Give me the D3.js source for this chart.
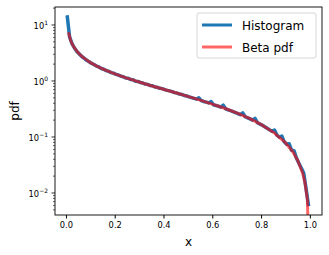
<!DOCTYPE html>
<html>
<head>
<meta charset="utf-8">
<script src="https://d3js.org/d3.v7.min.js"></script>
<style>
  body { margin: 0; background: #fff; }
  text { font-family: "DejaVu Sans", sans-serif; fill: #000; }
</style>
</head>
<body>
<div id="chart"></div>
<script>
// histogram: 100 bins on [0,1], density values
var histBins = d3.range(100).map(function(i) { return (i + 0.5) / 100; });
var histValues = [
  14.95, 6.12, 4.65, 3.88, 3.36, 3.04, 2.73, 2.55, 2.34, 2.21,
  2.06, 1.97, 1.85, 1.78, 1.67, 1.62, 1.53, 1.49, 1.41, 1.38,
  1.31, 1.28, 1.22, 1.19, 1.13, 1.12, 1.06, 1.05, 0.99, 0.98,
  0.94, 0.92, 0.88, 0.87, 0.83, 0.82, 0.78, 0.77, 0.74, 0.73,
  0.70, 0.68, 0.665, 0.645, 0.62, 0.61, 0.585, 0.575, 0.55, 0.54,
  0.52, 0.505, 0.49, 0.475, 0.50, 0.445, 0.43, 0.42, 0.405, 0.43,
  0.375, 0.365, 0.355, 0.34, 0.37, 0.318, 0.305, 0.296, 0.283, 0.272,
  0.262, 0.25, 0.27, 0.23, 0.22, 0.21, 0.20, 0.215, 0.18, 0.17,
  0.163, 0.152, 0.143, 0.134, 0.126, 0.133, 0.108, 0.099, 0.104, 0.082,
  0.074, 0.076, 0.058, 0.057, 0.042, 0.034, 0.028, 0.0225, 0.0115, 0.0058
];

// beta pdf curve (red)
var pdfX = [0.0101, 0.02, 0.03, 0.05, 0.07, 0.1, 0.13, 0.16, 0.2, 0.25, 0.3, 0.35, 0.4, 0.45,
  0.5, 0.55, 0.6, 0.65, 0.7, 0.75, 0.8, 0.85, 0.9, 0.93, 0.95, 0.97, 0.98, 0.99, 1.0];
var pdfValues = [7.39, 5.20, 4.20, 3.19, 2.64, 2.13, 1.81, 1.575, 1.342, 1.125, 0.959, 0.824, 0.711, 0.615,
  0.530, 0.455, 0.387, 0.326, 0.269, 0.217, 0.1677, 0.122, 0.079, 0.0544, 0.0385, 0.0228, 0.0152, 0.00754, 0];

var xTicks = [0, 0.2, 0.4, 0.6, 0.8, 1.0];
var yDecades = [-2, -1, 0, 1];
var seriesNames = ["Histogram", "Beta pdf"];

var w = 329, h = 255;
var pL = 55, pR = 322, pT = 7, pB = 215;

var svg = d3.select("#chart").append("svg")
  .attr("width", w).attr("height", h);

var x = d3.scaleLinear().domain([-0.0448, 1.0498]).range([pL, pR]);
var y = d3.scaleLog().domain([Math.pow(10, -2.393), Math.pow(10, 1.321)]).range([pB, pT]);

svg.append("clipPath").attr("id", "clip")
  .append("rect").attr("x", pL).attr("y", pT)
  .attr("width", pR - pL).attr("height", pB - pT);

var line = d3.line()
  .x(function(d) { return x(d[0]); })
  .y(function(d) { return y(Math.max(d[1], 1e-4)); });

var plot = svg.append("g").attr("clip-path", "url(#clip)");

plot.append("path")
  .datum(histBins.map(function(b, i) { return [b, histValues[i]]; }))
  .attr("d", line)
  .attr("fill", "none")
  .attr("stroke", "#1f77b4")
  .attr("stroke-width", 3.5)
  .attr("stroke-linejoin", "round");

plot.append("path")
  .datum(pdfX.map(function(v, i) { return [v, pdfValues[i]]; }))
  .attr("d", line)
  .attr("fill", "none")
  .attr("stroke", "red")
  .attr("stroke-opacity", 0.6)
  .attr("stroke-width", 3)
  .attr("stroke-linejoin", "round");

// x axis
var xAxis = d3.axisBottom(x).tickValues(xTicks).tickSize(3.5).tickPadding(3.5)
  .tickFormat(d3.format(".1f"));
var gx = svg.append("g").attr("transform", "translate(0," + pB + ")").call(xAxis);
gx.select(".domain").remove();
gx.selectAll("text").attr("font-size", 8.3).attr("font-family", "DejaVu Sans");

// y axis: minor ticks
var minor = [];
for (var k = -3; k <= 1; k++) {
  for (var m = 2; m <= 9; m++) {
    var v = m * Math.pow(10, k);
    if (v >= y.domain()[0] && v <= y.domain()[1]) minor.push(v);
  }
}
svg.selectAll(".minor").data(minor).enter().append("line")
  .attr("x1", pL - 2).attr("x2", pL)
  .attr("y1", function(d) { return y(d); }).attr("y2", function(d) { return y(d); })
  .attr("stroke", "#000").attr("stroke-width", 0.6);

svg.selectAll(".major").data(yDecades).enter().append("line")
  .attr("x1", pL - 3.5).attr("x2", pL)
  .attr("y1", function(d) { return y(Math.pow(10, d)); })
  .attr("y2", function(d) { return y(Math.pow(10, d)); })
  .attr("stroke", "#000").attr("stroke-width", 0.8);

var ylab = svg.selectAll(".ylab").data(yDecades).enter().append("text")
  .attr("text-anchor", "end")
  .attr("font-size", 8.3)
  .attr("x", pL - 7)
  .attr("y", function(d) { return y(Math.pow(10, d)) + 4; });
ylab.append("tspan").text("10");
ylab.append("tspan").attr("dy", -4).attr("font-size", 6)
  .text(function(d) { return d < 0 ? "\u2212" + (-d) : d; });

// spines
svg.append("rect").attr("x", pL).attr("y", pT)
  .attr("width", pR - pL).attr("height", pB - pT)
  .attr("fill", "none").attr("stroke", "#000").attr("stroke-width", 0.9);

// axis labels
svg.append("text").attr("x", (pL + pR) / 2).attr("y", 246)
  .attr("text-anchor", "middle").attr("font-size", 12).text("x");
svg.append("text").attr("transform", "translate(19," + ((pT + pB) / 2) + ") rotate(-90)")
  .attr("text-anchor", "middle").attr("font-size", 12).text("pdf");

// legend
var lg = svg.append("g");
lg.append("rect").attr("x", 197).attr("y", 13).attr("width", 119).attr("height", 45)
  .attr("rx", 2).attr("fill", "#fff").attr("fill-opacity", 0.8)
  .attr("stroke", "#ccc").attr("stroke-width", 0.8);
var legendStyles = [{ c: "#1f77b4", o: 1 }, { c: "red", o: 0.6 }];
seriesNames.forEach(function(name, i) {
  var ly = 25 + i * 22;
  lg.append("line").attr("x1", 202).attr("x2", 232).attr("y1", ly).attr("y2", ly)
    .attr("stroke", legendStyles[i].c).attr("stroke-opacity", legendStyles[i].o)
    .attr("stroke-width", 3);
  lg.append("text").attr("x", 242).attr("y", ly + 4.5).attr("font-size", 12).text(name);
});
</script>
</body>
</html>
